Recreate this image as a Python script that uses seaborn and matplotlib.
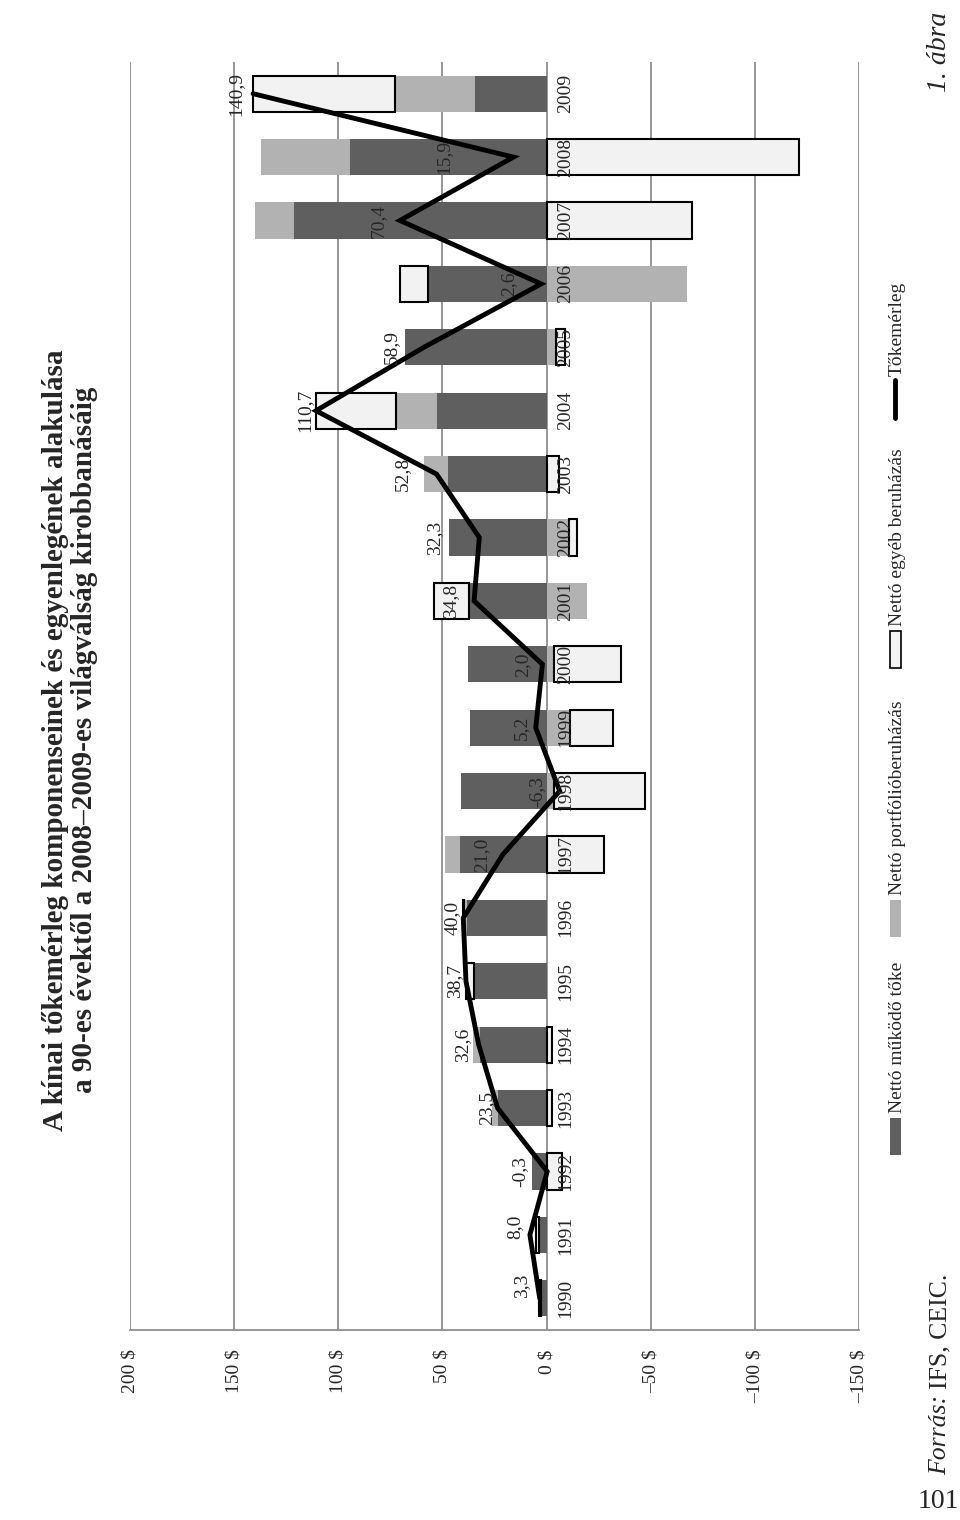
import numpy as np
import pandas as pd
import matplotlib
matplotlib.use("Agg")
import matplotlib.pyplot as plt
import seaborn as sns
from matplotlib.patches import Rectangle
from matplotlib.lines import Line2D

# ---------------- data ----------------
years = [str(y) for y in range(1990, 2010)]
fdi = [2.7, 3.5, 7.2, 23.1, 31.8, 34.2, 38.1, 41.7, 41.0, 36.8,
       37.5, 37.4, 47.0, 47.5, 52.8, 67.8, 56.9, 121.4, 94.3, 34.2]
portfolio = [-0.2, 0.2, -0.3, 3.1, 3.5, 0.5, 1.7, 6.9, -3.7, -11.2,
             -3.6, -19.4, -10.6, 11.2, 19.3, -4.5, -67.6, 18.7, 43.0, 38.6]
other = [0.8, 1.2, -7.2, -2.7, -2.7, 4.0, 0.2, -27.6, -43.6, -20.5,
         -31.9, 16.8, -4.1, -5.9, 38.6, -4.5, 13.3, -69.7, -121.4, 68.1]
balance = [3.3, 8.0, -0.3, 23.5, 32.6, 38.7, 40.0, 21.0, -6.3, 5.2,
           2.0, 34.8, 32.3, 52.8, 110.7, 58.9, 2.6, 70.4, 15.9, 140.9]
value_ticks = [200, 150, 100, 50, 0, -50, -100, -150]
tick_labels = ["200 $", "150 $", "100 $", "50 $", "0 $", "–50 $", "–100 $", "–150 $"]
series_names = ["Nettó működő tőke", "Nettó portfólióberuházás",
                "Nettó egyéb beruházás", "Tőkemérleg"]
title = ("A kínai tőkemérleg komponenseinek és egyenlegének alakulása\n"
         "a 90-es évektől a 2008–2009-es világválság kirobbanásáig")

# label placement (pixels, left of the line point in the rotated view)
label_dx = [18, 15, 27, 11, 16, 11, 11, 21, 23, 14, 20, 23, 45, 34, 11, 32, 32, 22, 70, 17]
label_dy = [12, 8, 0, 0, 0, 0, 0, 0, 0, 0, 0, 0, 0, 0, 0, 0, 0, 0, 0, 0]

# ---------------- style ----------------
sns.set_style("white")
plt.rcParams['font.family'] = ['Liberation Serif', 'DejaVu Serif']

DARK = "#5f5f5f"
LIGHT = "#b2b2b2"
WHITE = "#f2f2f2"
GRID = "#8f8f8f"

W, H = 960, 1520
fig = plt.figure(figsize=(W / 100, H / 100), dpi=100)
fig.patch.set_facecolor("white")

def fx(x):
    return x / W

def fy(y):
    return 1 - y / H

ax = fig.add_axes([fx(130), fy(1330), (859 - 130) / W, (1330 - 62) / H])

df = pd.DataFrame({"year": years, "fdi": fdi, "portfolio": portfolio,
                   "other": other, "balance": balance})
pos = np.arange(len(df))

pos_base = np.zeros(len(df))
neg_base = np.zeros(len(df))
layers = [("fdi", DARK, "none", 0), ("portfolio", LIGHT, "none", 0),
          ("other", WHITE, "black", 1.5)]
for col, color, ec, lw in layers:
    v = df[col].to_numpy()
    left = np.where(v >= 0, pos_base, neg_base)
    ax.barh(pos, v, left=left, height=0.57, color=color, edgecolor=ec,
            linewidth=lw, zorder=2)
    pos_base += np.where(v >= 0, v, 0)
    neg_base += np.where(v < 0, v, 0)

sns.lineplot(x=df["balance"], y=pos, sort=False, estimator=None, color="black",
             lw=3.5, ax=ax, zorder=4, solid_joinstyle="miter", legend=False)

ax.set_xlim(200, -150)
ax.set_ylim(-0.5, len(df) - 0.5)
ax.set_xticks(value_ticks)
ax.set_xticklabels(tick_labels, rotation=90, fontsize=14)
ax.tick_params(axis="x", length=0, pad=14)
ax.set_yticks([])
ax.set_xlabel("")
ax.set_ylabel("")
ax.xaxis.grid(True, color=GRID, lw=1.3)
ax.yaxis.grid(False)
ax.set_axisbelow(True)
for s in ["top", "right", "left"]:
    ax.spines[s].set_visible(False)
ax.spines["bottom"].set_color(GRID)
ax.spines["bottom"].set_linewidth(1.3)
ax.set_facecolor("white")

for i, yr in enumerate(years):
    ax.annotate(yr, xy=(0, i), xytext=(11, 0), textcoords="offset pixels",
                rotation=90, ha="left", va="center", fontsize=14, zorder=5)

for i, v in enumerate(balance):
    lbl = f"{v:.1f}".replace(".", ",")
    ax.annotate(lbl, xy=(v, i), xytext=(-label_dx[i], label_dy[i]),
                textcoords="offset pixels", rotation=90, ha="center",
                va="center", fontsize=14, zorder=5)

# title
fig.text(fx(70), fy(740), title, rotation=90, ha="center", va="center",
         fontsize=21, fontweight="bold", multialignment="center", linespacing=1.1)

# "1. ábra"
fig.text(fx(940), fy(92), "1. ábra", rotation=90, ha="center", va="bottom",
         fontsize=20, style="italic")

# legend (rotated)
patch_w = 11
legend_items = [
    (series_names[0], 1155, "patch", DARK, "none"),
    (series_names[1], 937, "patch", LIGHT, "none"),
    (series_names[2], 668, "patch", WHITE, "black"),
    (series_names[3], 418, "line", "black", None),
]
for name, ystart, kind, col, ec in legend_items:
    if kind == "patch":
        fig.patches.append(Rectangle((fx(890), fy(ystart)), patch_w / W, 37 / H,
                                     transform=fig.transFigure, facecolor=col,
                                     edgecolor=ec, linewidth=1.2))
    else:
        fig.lines.append(Line2D([fx(895), fx(895)], [fy(ystart), fy(ystart - 38)],
                                transform=fig.transFigure, color=col, lw=3.5))
    fig.text(fx(897), fy(ystart - 42), name, rotation=90, ha="center",
             va="bottom", fontsize=14)

# source
fig.canvas.draw()
renderer = fig.canvas.get_renderer()
t1 = fig.text(fx(940), fy(1475), "Forrás:", rotation=90, ha="center",
              va="bottom", fontsize=18.5, style="italic")
bb = t1.get_window_extent(renderer)
fig.text(fx(940), (bb.y1 + 6) / H, "IFS, CEIC.", rotation=90, ha="center",
         va="bottom", fontsize=18.5)

fig.text(fx(938), fy(1502), "101", ha="center", va="center", fontsize=20)

fig.savefig("out.png", dpi=100, facecolor="white")
